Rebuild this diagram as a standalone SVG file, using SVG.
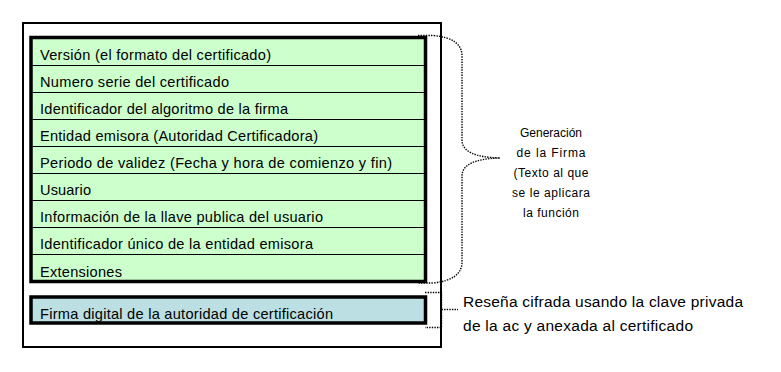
<svg xmlns="http://www.w3.org/2000/svg" width="781" height="372" viewBox="0 0 781 372">
<style>
.t{font-family:"Liberation Sans",Arial,sans-serif;font-size:14.6px;fill:#000}
.r{font-family:"Liberation Sans",Arial,sans-serif;font-size:15.5px;fill:#000}
.g{font-family:"Liberation Sans",Arial,sans-serif;font-size:12px;fill:#000;text-anchor:middle}
.dot{fill:none;stroke:#000;stroke-width:1.4;stroke-dasharray:1.4 1.2}
.sep{stroke:#000;stroke-width:1}
</style>
<rect width="781" height="372" fill="#fff"/>
<g id="certificado">
<rect x="23" y="23" width="418" height="324" fill="#fff" stroke="#000" stroke-width="2"/>
</g>
<g id="campos">
<rect x="31" y="37.5" width="394.5" height="244" fill="#ccffcc" stroke="#000" stroke-width="3.5"/>
<line class="sep" x1="32.5" y1="65.5" x2="424" y2="65.5"/>
<line class="sep" x1="32.5" y1="92.5" x2="424" y2="92.5"/>
<line class="sep" x1="32.5" y1="119.5" x2="424" y2="119.5"/>
<line class="sep" x1="32.5" y1="146.5" x2="424" y2="146.5"/>
<line class="sep" x1="32.5" y1="173.5" x2="424" y2="173.5"/>
<line class="sep" x1="32.5" y1="200.5" x2="424" y2="200.5"/>
<line class="sep" x1="32.5" y1="227.5" x2="424" y2="227.5"/>
<line class="sep" x1="32.5" y1="254.5" x2="424" y2="254.5"/>
<text class="t" x="40" y="60" textLength="231" lengthAdjust="spacing">Versión (el formato del certificado)</text>
<text class="t" x="40" y="87" textLength="189" lengthAdjust="spacing">Numero serie del certificado</text>
<text class="t" x="40" y="114" textLength="248" lengthAdjust="spacing">Identificador del algoritmo de la firma</text>
<text class="t" x="40" y="141" textLength="278" lengthAdjust="spacing">Entidad emisora (Autoridad Certificadora)</text>
<text class="t" x="40" y="168" textLength="352" lengthAdjust="spacing">Periodo de validez (Fecha y hora de comienzo y fin)</text>
<text class="t" x="40" y="195" textLength="51" lengthAdjust="spacing">Usuario</text>
<text class="t" x="40" y="222" textLength="283" lengthAdjust="spacing">Información de la llave publica del usuario</text>
<text class="t" x="40" y="249" textLength="273" lengthAdjust="spacing">Identificador único de la entidad emisora</text>
<text class="t" x="40" y="276.5" textLength="82" lengthAdjust="spacing">Extensiones</text>
</g>
<g id="firma">
<rect x="31" y="297" width="394.5" height="26" fill="#bbdfe2" stroke="#000" stroke-width="3.5"/>
<text class="t" x="40" y="318.5" textLength="293" lengthAdjust="spacing">Firma digital de la autoridad de certificación</text>
</g>
<g id="conectores">
<path class="dot" d="M418,35.5 L433,35.5 Q462,38 462,56 L462,140 Q462,157 500,158 Q462,159 462,176 L462,262 Q462,280 433,283 L418,283"/>
<path class="dot" d="M425,292.5 L441.5,292.5 L441.5,327.5 L425,327.5 M441.5,309.5 L458,309.5"/>
</g>
<g id="nota-generacion">
<text class="g" x="551" y="137" textLength="62" lengthAdjust="spacing">Generación</text>
<text class="g" x="551" y="157" textLength="69" lengthAdjust="spacing">de la Firma</text>
<text class="g" x="551" y="177" textLength="75" lengthAdjust="spacing">(Texto al que</text>
<text class="g" x="551" y="197" textLength="78" lengthAdjust="spacing">se le aplicara</text>
<text class="g" x="551" y="217" textLength="56" lengthAdjust="spacing">la función</text>
</g>
<g id="nota-resena">
<text class="r" x="463" y="306.5" textLength="280" lengthAdjust="spacing">Reseña cifrada usando la clave privada</text>
<text class="r" x="463" y="330.5" textLength="230" lengthAdjust="spacing">de la ac y anexada al certificado</text>
</g>
</svg>
